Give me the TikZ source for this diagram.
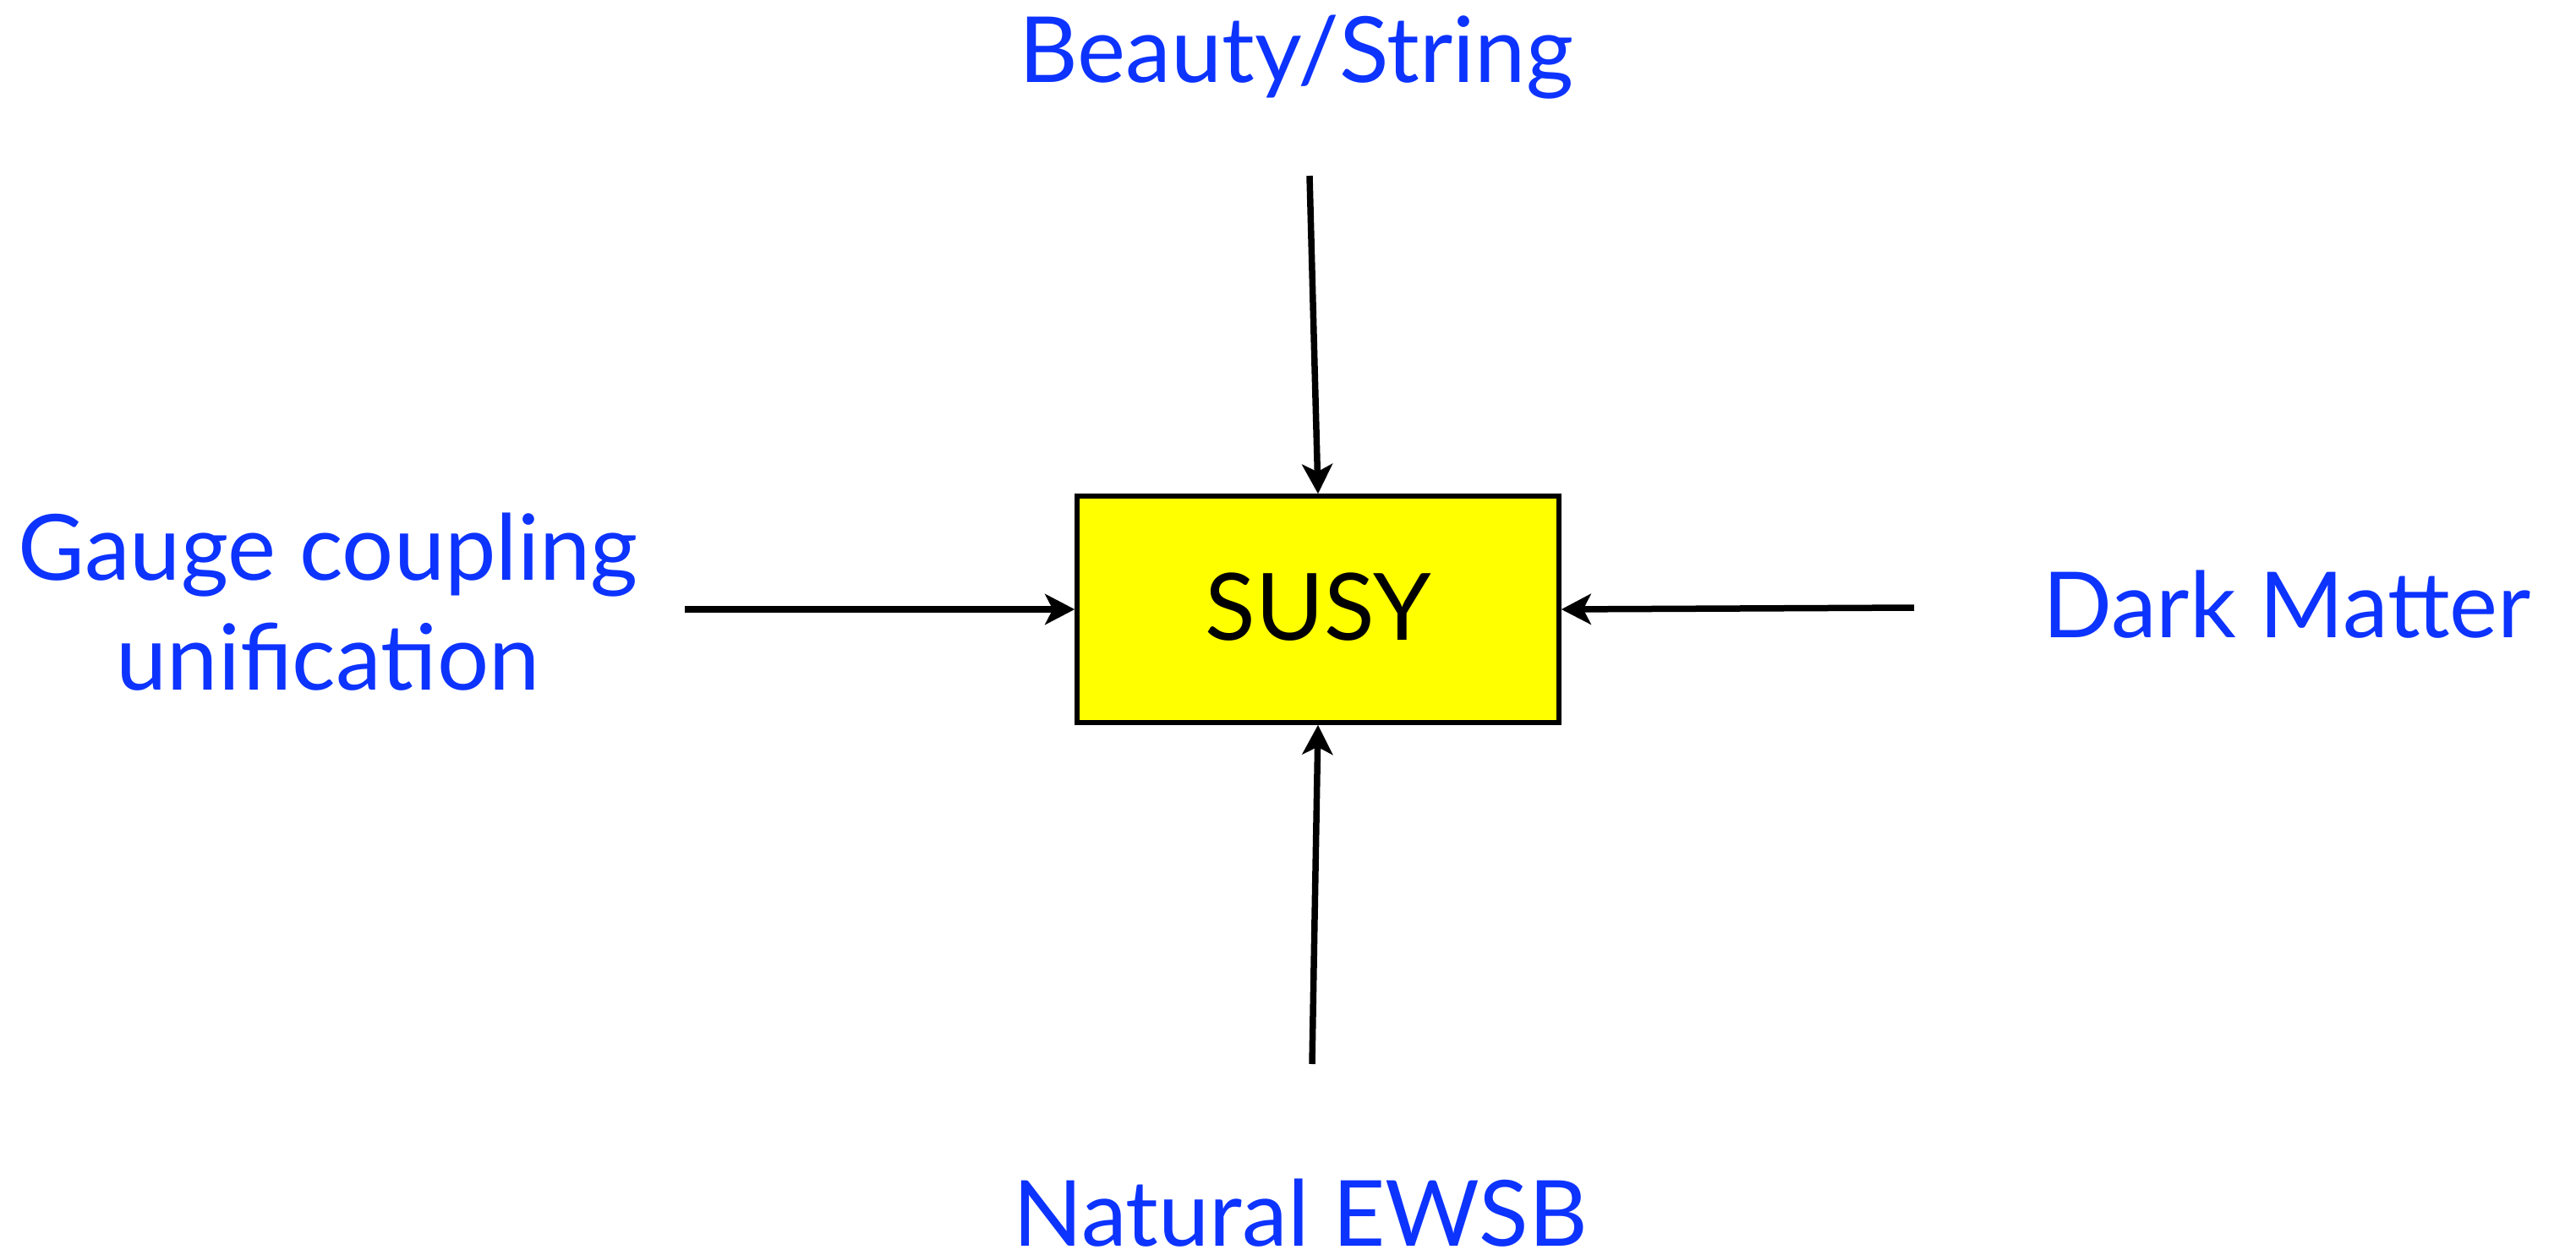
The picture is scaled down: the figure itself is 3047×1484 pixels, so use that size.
\documentclass[tikz,border=0pt]{standalone}
\usepackage{fontspec}
\setmainfont{Lato}
\usetikzlibrary{arrows.meta}
\definecolor{lblblue}{RGB}{13,51,255}
\definecolor{boxyellow}{RGB}{255,255,0}
\begin{document}
\begin{tikzpicture}[x=1pt,y=-1pt,
  lbl/.style={text=lblblue,font=\fontsize{108}{130}\selectfont,inner sep=0pt,anchor=base},
  susybox/.style={draw=black,line width=5.5pt,fill=boxyellow,minimum width=570pt,minimum height=268pt,inner sep=0pt},
  feed/.style={line width=7.5pt,-{Stealth[length=35pt,width=36pt,inset=9pt]}}]
\useasboundingbox (0,0) rectangle (3047,1484);
\node[susybox] (susy) at (1559,721) {};
\node[anchor=base,inner sep=0pt,font=\fontsize{110}{130}\selectfont] (susytxt) at (1559,757) {SUSY};
\node[lbl] (beauty) at (1533,97) {Beauty/String};
\node[lbl] (gauge1) at (388,686) {Gauge coupling};
\node[lbl] (gauge2) at (388,816) {unification};
\node[lbl] (dm) at (2705,754) {Dark Matter};
\node[lbl] (ewsb) at (1538,1474) {Natural EWSB};
\coordinate (ctop) at (1549,208);
\coordinate (cleft) at (810,721);
\coordinate (cright) at (2264,719);
\coordinate (cbot) at (1552,1259);
\draw[feed] (ctop) -- (susy.north);
\draw[feed] (cleft) -- (susy.west);
\draw[feed] (cright) -- (susy.east);
\draw[feed] (cbot) -- (susy.south);
\end{tikzpicture}
\end{document}
